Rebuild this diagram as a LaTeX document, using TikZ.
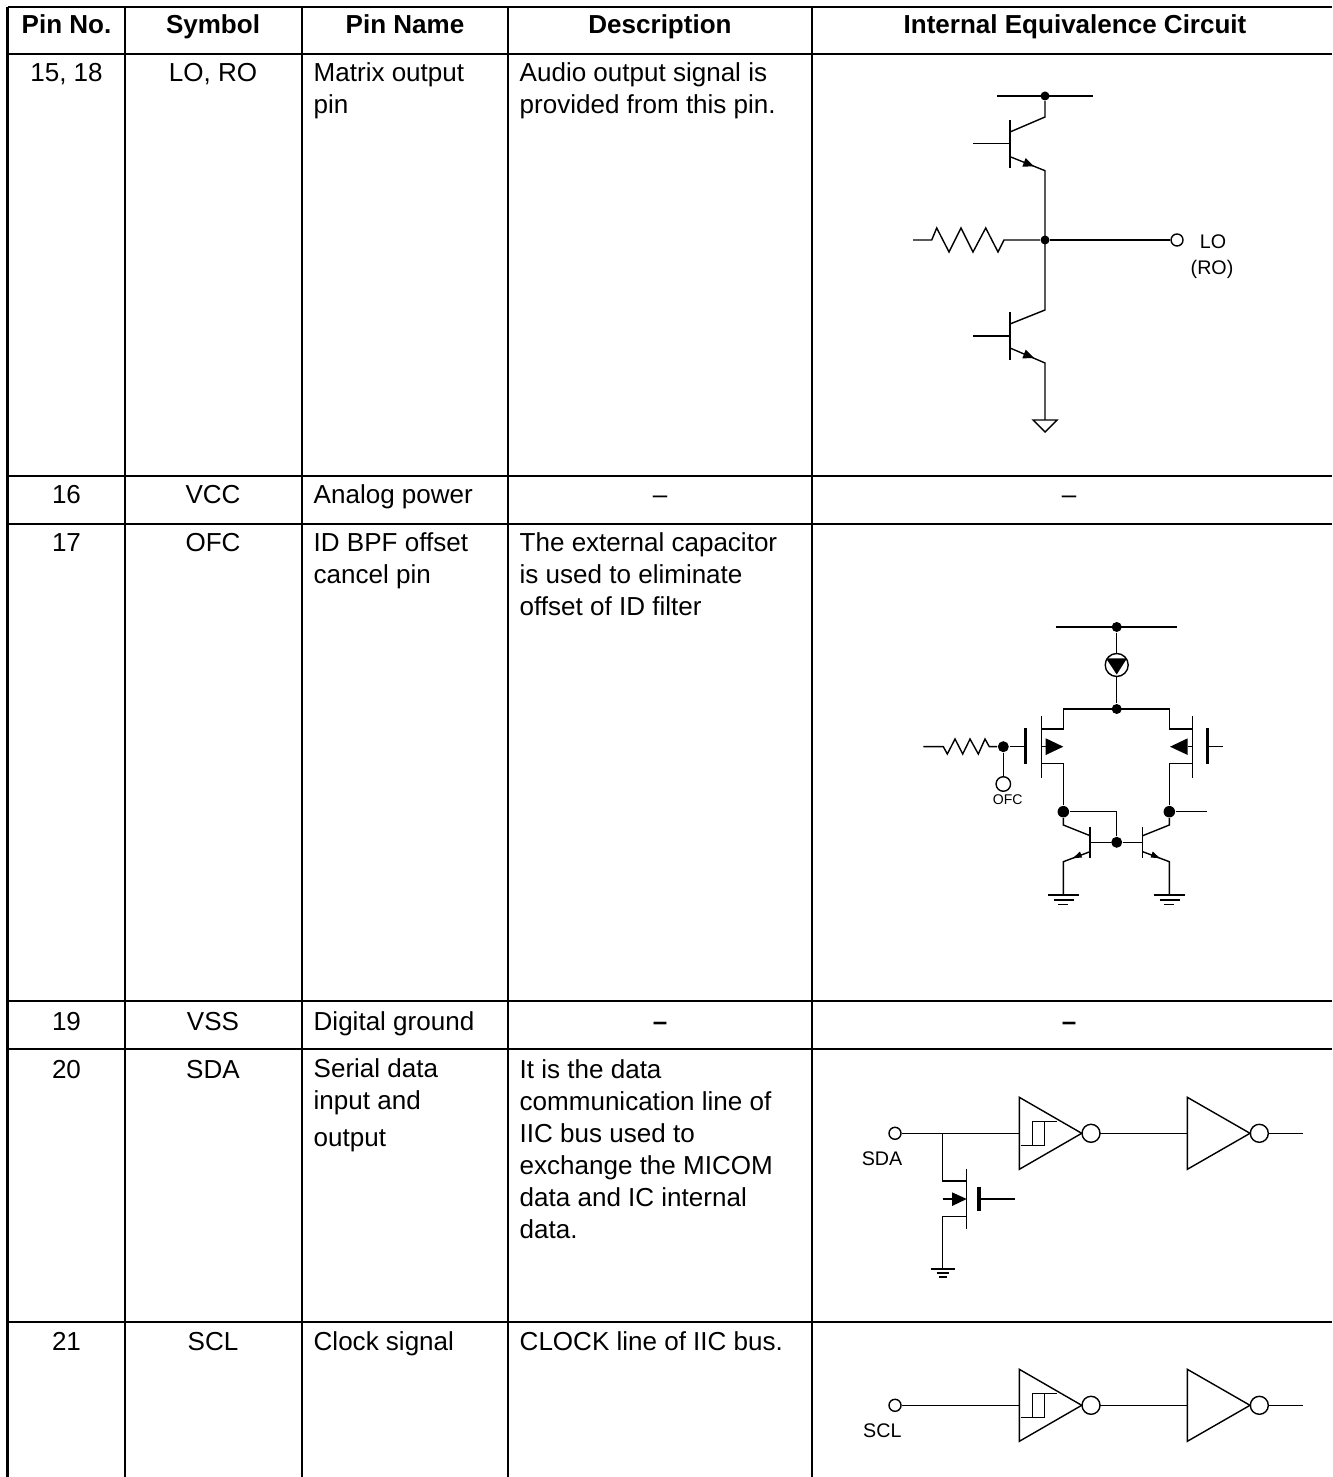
\documentclass[tikz,border=0pt]{standalone}
\usepackage{fontspec}
\setmainfont{Liberation Sans}
\usetikzlibrary{calc}

\tikzset{
  rule/.style={line width=0.65pt,black},
  wire/.style={line width=0.4pt,black},
  heavy/.style={line width=0.9pt,black},
  solid dot/.style={circle,fill=black,inner sep=0pt,minimum size=#1},
  solid dot/.default=0.09cm,
  open pin/.style={draw,circle,line width=0.4pt,inner sep=0pt,minimum size=#1},
  open pin/.default=0.12cm,
  hdr/.style={anchor=base,inner sep=0pt,font=\fontsize{7.4}{9.1}\selectfont\bfseries},
  cell/.style={anchor=base,inner sep=0pt,font=\fontsize{7.4}{9.1}\selectfont},
  lcell/.style={anchor=base west,inner sep=0pt,align=left,font=\fontsize{7.4}{9.1}\selectfont},
  small label/.style={inner sep=0pt,font=\fontsize{5.6}{6.9}\selectfont},
  tiny label/.style={inner sep=0pt,font=\fontsize{4}{5}\selectfont},
  pics/schmitt chain/.style={code={
    % Two inverters, the first one with a hysteresis mark
    \coordinate (-in) at (1019.3,0);
    \draw[wire] (1019.3,-36) -- (1019.3,36) -- (1081.7,0) -- cycle;
    \draw[wire] (1020.7,12) -- (1044.7,12) -- (1044.7,-12);
    \draw[wire] (1032.7,12) -- (1032.7,-12);
    \draw[wire] (1032.7,-12) -- (1056.7,-12);
    \draw[wire] (1091,0) circle (9);
    \draw[wire] (1100,0) -- (1187.3,0);
    \draw[wire] (1187.3,-36) -- (1187.3,36) -- (1250,0) -- cycle;
    \draw[wire] (1259.3,0) circle (9);
    \draw[wire] (1268.3,0) -- (1302.7,0);
  }}
}

\begin{document}
\begin{tikzpicture}[x=0.01cm,y=-0.01cm]
  \useasboundingbox (0,0) rectangle (1332,1477);
  \fill[white] (0,0) rectangle (1332,1477);

  % Table rules
  \draw[rule] (7.5,7) -- (1332,7);
  \draw[rule] (7.5,54) -- (1332,54);
  \draw[rule] (7.5,476) -- (1332,476);
  \draw[rule] (7.5,524) -- (1332,524);
  \draw[rule] (7.5,1001) -- (1332,1001);
  \draw[rule] (7.5,1049) -- (1332,1049);
  \draw[rule] (7.5,1322) -- (1332,1322);
  \draw[rule] (7.5,7) -- (7.5,1477);
  \draw[rule] (125,7) -- (125,1477);
  \draw[rule] (302,7) -- (302,1477);
  \draw[rule] (508,7) -- (508,1477);
  \draw[rule] (812,7) -- (812,1477);

  % Header row
  \node[hdr] (hpin) at (66.5,34) {Pin No.};
  \node[hdr] (hsym) at (213,34) {Symbol};
  \node[hdr] (hname) at (405,34) {Pin Name};
  \node[hdr] (hdesc) at (660,34) {Description};
  \node[hdr] (hcirc) at (1075,34) {Internal Equivalence Circuit};

  % Pin 15, 18
  \node[cell] (pin15) at (66.5,82) {15, 18};
  \node[cell] (sym15) at (213,82) {LO, RO};
  \node[lcell] (name15) at (313,114) {Matrix output\\pin};
  \node[lcell] (desc15) at (519,114) {Audio output signal is\\provided from this pin.};

  % Pin 16
  \node[cell] (pin16) at (66.5,504) {16};
  \node[cell] (sym16) at (213,504) {VCC};
  \node[lcell] (name16) at (313,504) {Analog power};
  \node[cell] (desc16) at (660,504) {–};
  \node[cell] (circ16) at (1069,504) {–};

  % Pin 17
  \node[cell] (pin17) at (66.5,552) {17};
  \node[cell] (sym17) at (213,552) {OFC};
  \node[lcell] (name17) at (313,584) {ID BPF offset\\cancel pin};
  \node[lcell] (desc17) at (519,616) {The external capacitor\\is used to eliminate\\offset of ID filter};

  % Pin 19
  \node[cell] (pin19) at (66.5,1030) {19};
  \node[cell] (sym19) at (213,1030) {VSS};
  \node[lcell] (name19) at (313,1030) {Digital ground};
  \node[cell] (desc19) at (660,1030) {\bfseries –};
  \node[cell] (circ19) at (1069,1030) {\bfseries –};

  % Pin 20
  \node[cell] (pin20) at (66.5,1078) {20};
  \node[cell] (sym20) at (213,1078) {SDA};
  \node[lcell] (name20) at (313,1146) {Serial data\\input and\\[1.2pt]output};
  \node[lcell] (desc20) at (519,1238) {It is the data\\communication line of\\IIC bus used to\\exchange the MICOM\\data and IC internal\\data.};

  % Pin 21
  \node[cell] (pin21) at (66.5,1350) {21};
  \node[cell] (sym21) at (213,1350) {SCL};
  \node[lcell] (name21) at (313,1350) {Clock signal};
  \node[lcell] (desc21) at (519,1350) {CLOCK line of IIC bus.};

  % Output stage of LO, RO
  \coordinate (busL) at (997,96);
  \coordinate (busR) at (1093,96);
  \coordinate (Vtop) at (1045,96);
  \coordinate (Mid) at (1045,240);
  \coordinate (Q1b) at (973,143.7);
  \coordinate (Q1k) at (1010,143.7);
  \coordinate (Q1c) at (1010,132);
  \coordinate (Q1e) at (1010,156.7);
  \coordinate (Q2b) at (973,336);
  \coordinate (Q2k) at (1010,336);
  \coordinate (Q2c) at (1010,324);
  \coordinate (Q2e) at (1010,348);
  \draw[wire] (busL) -- (busR);
  \node[solid dot] (dotA) at (Vtop) {};
  \draw[wire] (dotA) -- (1045,117) -- (Q1c);
  \draw[wire] (1010,120) -- (1010,168);
  \draw[wire] (Q1b) -- (Q1k);
  \draw[wire] (Q1e) -- (1045,170.7) -- (Mid);
  \fill (1034,166.3) -- (1022.3,166.7) -- (1025.7,158) -- cycle;
  \node[solid dot] (dotB) at (Mid) {};
  \node[open pin] (pinLO) at (1177,240) {};
  \draw[wire] (dotB) -- (pinLO);
  \draw[wire] (913,240) -- (931.7,240) -- (936.7,228) -- (949,252) -- (961,228) -- (973,252) -- (985.7,228) -- (998,252) -- (1004,240) -- (dotB);
  \node[small label] (lblLO) at (1213,241.7) {LO};
  \node[small label] (lblRO) at (1212,269) {(RO)};
  \draw[wire] (Mid) -- (1045,310) -- (Q2c);
  \draw[wire] (1010,312) -- (1010,360);
  \draw[wire] (Q2b) -- (Q2k);
  \draw[wire] (Q2e) -- (1045,363) -- (1045,420);
  \fill (1034,358) -- (1022.3,358.4) -- (1025.7,349.7) -- cycle;
  \draw[wire] (1033,420) -- (1057,420) -- (1045,432) -- cycle;

  % Differential pair of OFC
  \coordinate (tailT) at (1116.7,709);
  \draw[wire] (1055.7,627) -- (1176.7,627);
  \node[solid dot=0.1cm] (dotC) at (1116.7,627) {};
  \node[solid dot=0.1cm] (dotD) at (tailT) {};
  \node[open pin=0.23cm] (isrc) at (1116.7,665) {};
  \draw[wire] (dotC) -- (isrc);
  \draw[wire] (isrc) -- (dotD);
  \fill (1106,658.3) -- (1127,658.3) -- (1116.7,674.5) -- cycle;
  \node[solid dot=0.115cm] (dotL) at (1063.3,811.7) {};
  \node[solid dot=0.115cm] (dotR) at (1169.3,811.7) {};
  \node[solid dot=0.11cm] (dotG) at (1003.3,746.7) {};
  \node[solid dot=0.11cm] (dotM) at (1116.7,842.3) {};
  % left and right FET
  \draw[wire] (dotL) -- (1063.3,763.3) -- (1041.7,763.3);
  \draw[wire] (1041.7,729) -- (1063.3,729) -- (1063.3,709) -- (1169.3,709) -- (1169.3,729) -- (1192.3,729);
  \draw[wire] (dotR) -- (1169.3,763.3) -- (1192.3,763.3);
  \draw[wire] (1041.7,716) -- (1041.7,777.7);
  \draw[wire] (1192.3,716) -- (1192.3,777.7);
  \draw[wire] (1041.7,746.7) -- (1046,746.7);
  \draw[wire] (1192.3,746.7) -- (1188,746.7);
  \fill (1045.7,738.3) -- (1045.7,755) -- (1063.3,746.7) -- cycle;
  \fill (1187.7,738.3) -- (1187.7,755) -- (1170,746.7) -- cycle;
  \draw[heavy] (1025.7,728.3) -- (1025.7,764);
  \draw[heavy] (1207.3,728.3) -- (1207.3,764);
  \draw[wire] (dotG) -- (1025.7,746.7);
  \draw[wire] (1207.3,746.7) -- (1222.7,746.7);
  \draw[wire] (923.3,746.7) -- (943.3,746.7) -- (947.3,754) -- (955,739) -- (962.7,754) -- (970,739) -- (978.3,754) -- (985,739) -- (989.3,746.7) -- (dotG);
  \node[open pin=0.145cm] (pinOFC) at (1003.3,784) {};
  \draw[wire] (dotG) -- (pinOFC);
  \node[tiny label] (lblOFC) at (1007.7,800) {OFC};
  % current mirror
  \draw[wire] (dotL) -- (1116.7,811.7) -- (dotM);
  \draw[wire] (dotR) -- (1206.7,811.7);
  \draw[wire] (dotL) -- (1063.3,825) -- (1090,835.7);
  \draw[wire] (dotR) -- (1169.3,825) -- (1142.7,835.7);
  \draw[wire] (1090,826.7) -- (1090,858.3);
  \draw[wire] (1142.7,826.7) -- (1142.7,858.3);
  \draw[wire] (1090,842.3) -- (dotM) -- (1142.7,842.3);
  \draw[wire] (1090,851.7) -- (1063.3,861.7) -- (1063.3,895);
  \draw[wire] (1142.7,851.7) -- (1169.3,861.7) -- (1169.3,895);
  \fill (1072.7,858.3) -- (1080,851.5) -- (1082,857.5) -- cycle;
  \fill (1160,858.3) -- (1152.7,851.5) -- (1150.7,857.5) -- cycle;
  \draw[wire] (1048.3,895) -- (1079.3,895);
  \draw[wire] (1054,900) -- (1074,900);
  \draw[wire] (1058.3,904.7) -- (1068.3,904.7);
  \draw[wire] (1154,895) -- (1185,895);
  \draw[wire] (1159.7,900) -- (1179.7,900);
  \draw[wire] (1164,904.7) -- (1174,904.7);

  % SDA input
  \pic (sdaChain) at (0,1133.3) {schmitt chain};
  \node[open pin] (pinSDA) at (895,1133.3) {};
  \draw[wire] (pinSDA) -- (sdaChain-in);
  \node[small label] (lblSDA) at (882,1158.3) {SDA};
  \draw[wire] (942.7,1133.3) -- (942.7,1181) -- (966.7,1181);
  \draw[wire] (966.7,1169.3) -- (966.7,1229.3);
  \draw[wire] (966.7,1216.7) -- (942.7,1216.7) -- (942.7,1269);
  \draw[wire] (942.7,1199) -- (952,1199);
  \fill (952,1192.3) -- (952,1206) -- (966.7,1199) -- cycle;
  \draw[heavy] (979,1186.7) -- (979,1211.3);
  \draw[wire] (979,1199) -- (1015,1199);
  \draw[wire] (930.7,1269) -- (955,1269);
  \draw[wire] (936.7,1273) -- (949.3,1273);
  \draw[wire] (939.3,1277) -- (946.7,1277);

  % SCL input
  \pic (sclChain) at (0,1405.3) {schmitt chain};
  \node[open pin] (pinSCL) at (895,1405.3) {};
  \draw[wire] (pinSCL) -- (sclChain-in);
  \node[small label] (lblSCL) at (882.3,1430.7) {SCL};
\end{tikzpicture}
\end{document}
